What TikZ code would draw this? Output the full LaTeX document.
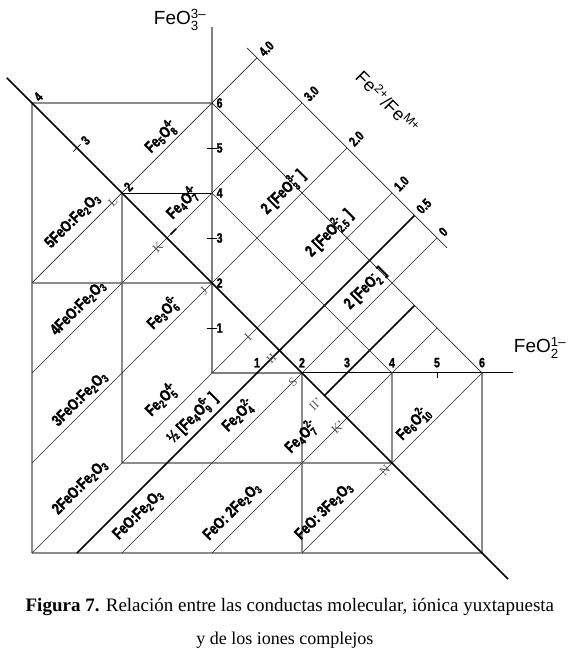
\documentclass[tikz,border=0pt]{standalone}
\usepackage{fontspec}
\usepackage{amsmath}
\setmainfont{Liberation Serif}
\newfontfamily\condb[FakeStretch=0.78,FakeBold=1.6]{Liberation Sans Bold}
\newfontfamily\sansf{Liberation Sans}
\newcommand\ssx[2]{$^{\text{#1}}_{\text{#2}}$}
\newcommand\sbx[1]{$_{\text{#1}}$}
\begin{document}
\begin{tikzpicture}[x=45pt,y=45pt,
  gl/.style={draw=black!45, line width=1.4pt},
  ax/.style={draw=black!50, line width=2pt},
  tl/.style={draw=black!85, line width=0.7pt},
  bl/.style={draw=black, line width=1.5pt},
  md/.style={draw=black, line width=1.6pt},
  cmp/.style={font=\condb\fontsize{16}{18}\selectfont, rotate=45, inner sep=0pt},
  num/.style={font=\condb\fontsize{13.5}{15}\selectfont, inner sep=0pt},
  scl/.style={num, rotate=45, anchor=west},
  ltr/.style={font=\fontsize{12.5}{14}\selectfont, rotate=45, text=black!65, inner sep=0pt},
]
\useasboundingbox (-212pt,-293pt) rectangle (358pt,373pt);
\foreach \i in {-4,...,6}{\foreach \j in {-4,...,7}{\coordinate (g\i y\j) at (\i,\j);}}
\coordinate (m1) at (-4.56,6.56);
\coordinate (m2) at (6.58,-4.58);
\coordinate (s1) at (0.78,7.22);
\coordinate (s2) at (5.22,2.78);
\coordinate (h2) at (4.5,3.5);
\coordinate (k1) at (2.5,-0.5);
\coordinate (k2) at (4.5,1.5);
\coordinate (vtop) at (0,7.69);
\coordinate (hend) at (6.69,0);

% grey frame lines
\draw[gl] (g-4y-4) -- (g-4y6) -- (g0y6);
\draw[gl] (g-4y2) -- (g0y2);
\draw[gl] (g-2y-2) -- (g-2y4);
\draw[gl] (g-2y-2) -- (g4y-2);
\draw[gl] (g-4y-4) -- (g6y-4);
\draw[gl] (g2y-4) -- (g2y0);
\draw[gl] (g4y-2) -- (g4y0);
\draw[gl] (g6y-4) -- (g6y0);
\draw[tl, draw=black] (g-2y4) -- (g0y4);

% axes
\draw[ax] (g0y0) -- (vtop);
\draw[ax] (g0y0) -- (g2y0);
\draw[draw=black, line width=1pt] (g2y0) -- (hend);

% rising lines
\draw[tl] (g-4y2) -- (g1y7);
\draw[tl] (g-4y0) -- (g2y6);
\draw[tl] (g-4y-2) -- (g3y5);
\draw[tl] (g-4y-4) -- (g4y4);
\draw[bl] (g-3y-4) -- (h2);
\draw[tl] (g-2y-4) -- (g5y3);
\draw[bl] (k1) -- (k2);
\draw[tl] (g0y-4) -- (g5y1);
\draw[tl] (g2y-4) -- (g6y0);

% falling lines
\draw[md] (m1) -- (m2);
\draw[tl] (g0y4) -- (g4y0);
\draw[tl] (g0y6) -- (g6y0);
\draw[tl] (s1) -- (s2);

% ticks
\foreach \k in {1,3,5}{\draw[tl, draw=black] (-0.12,\k) -- (0.1,\k);}
\draw[tl, draw=black] (5,0.03) -- (5,-0.11);
\draw[tl, draw=black] (-3.08,4.92) -- (-2.92,5.08);
\draw[line width=1.6pt] (-0.92,3.08) -- (-0.8,3.2);

% axis numbers
\foreach \k in {1,...,6}{\node[num, anchor=west] (vy\k) at (0.1,\k) {\k};}
\foreach \k in {1,...,6}{\node[num, anchor=south] (hx\k) at (\k,0.12) {\k};}

% scale numbers
\foreach \p/\t/\n in {1/4.0/a,2/3.0/b,3/2.0/c,4/1.0/d,4.5/0.5/e,5/0/f}
  {\node[scl] (sc\n) at ({\p+0.09},{8-\p+0.09}) {\t};}
\node[scl] (md4) at (-3.91,6.09) {4};
\node[scl] (md3) at (-2.86,5.12) {3};
\node[scl] (md2) at (-1.91,4.09) {2};

% letters
\node[ltr] (lL) at (-2.2,3.8) {L};
\node[ltr] (lK) at (-1.2,2.8) {K};
\node[ltr] (lJ) at (-0.18,1.82) {J};
\node[ltr] (lI) at (0.8,0.8) {I};
\node[ltr] (lII) at (1.32,0.32) {II};
\node[ltr] (lS) at (1.8,-0.2) {S};
\node[ltr] (lIIp) at (2.3,-0.7) {II'};
\node[ltr] (lKp) at (2.8,-1.2) {K'};
\node[ltr] (lN) at (3.84,-2.16) {N};

% compound labels
\node[cmp] (c1) at (-1.13,5.25) {Fe\sbx{5}O\ssx{4-}{8}};
\node[cmp] (c2) at (-0.65,3.78) {Fe\sbx{4}O\ssx{4-}{7}};
\node[cmp] (c3) at (-3.09,3.38) {5FeO:Fe\sbx{2}O\sbx{3}};
\node[cmp] (c4) at (-1.08,1.33) {Fe\sbx{3}O\ssx{6-}{6}};
\node[cmp] (c5) at (-2.97,1.44) {4FeO:Fe\sbx{2}O\sbx{3}};
\node[cmp] (c6) at (-2.93,-0.58) {3FeO:Fe\sbx{2}O\sbx{3}};
\node[cmp] (c7) at (-1.12,-0.6) {Fe\sbx{2}O\ssx{4-}{5}};
\node[cmp] (c8) at (-0.44,-1.0) {½ [Fe\sbx{4}O\ssx{6-}{9} ]};
\node[cmp] (c9) at (0.58,-0.94) {Fe\sbx{2}O\ssx{2-}{4}};
\node[cmp] (c10) at (-2.93,-2.54) {2FeO:Fe\sbx{2}O\sbx{3}};
\node[cmp] (c11) at (-1.64,-3.15) {FeO:Fe\sbx{2}O\sbx{3}};
\node[cmp] (c12) at (0.45,-3.08) {FeO: 2Fe\sbx{2}O\sbx{3}};
\node[cmp] (c13) at (1.98,-1.42) {Fe\sbx{4}O\ssx{2-}{7}};
\node[cmp] (c14) at (2.49,-3.07) {FeO: 3Fe\sbx{2}O\sbx{3}};
\node[cmp] (c15) at (4.47,-1.12) {Fe\sbx{6}O\ssx{2-}{10}};
\node[cmp] (c16) at (1.58,4.02) {2 [FeO\ssx{3-}{3} ]};
\node[cmp] (c17) at (2.6,3.11) {2 [FeO\ssx{2-}{2.5} ]};
\node[cmp] (c18) at (3.42,1.87) {2 [FeO\ssx{-}{2} ]};

% axis titles
\node[font=\sansf\fontsize{19}{22}\selectfont, inner sep=0pt] (t1) at (-0.71,7.84) {FeO$_{\text{3}}^{\text{3–}}$};
\node[font=\sansf\fontsize{19}{22}\selectfont, inner sep=0pt] (t2) at (7.29,0.56) {FeO$_{\text{2}}^{\text{1–}}$};
\node[font=\sansf\fontsize{18}{20}\selectfont, inner sep=0pt, rotate=-45] (t3) at (3.91,6.02) {Fe$^{\text{2+}}$/Fe$^{\text{M+}}$};

% caption
\node[anchor=base, font=\fontsize{19}{22}\selectfont, inner sep=0pt] (cap1) at (1.73,-5.29) {\textbf{Figura 7.} Relación entre las conductas molecular, iónica yuxtapuesta};
\node[anchor=base, font=\fontsize{18}{22}\selectfont, inner sep=0pt] (cap2) at (1.62,-6.04) {y de los iones complejos};
\end{tikzpicture}
\end{document}
